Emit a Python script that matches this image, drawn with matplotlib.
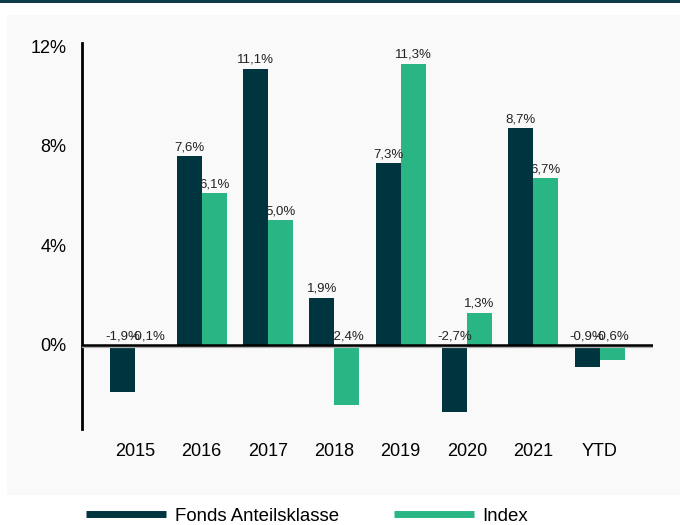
import matplotlib.pyplot as plt
from matplotlib.lines import Line2D
from matplotlib.patches import Rectangle
import numpy as np

plt.rcParams['font.family'] = ['Liberation Sans', 'DejaVu Sans']

# Jahresrenditen in %
jahre = ['2015', '2016', '2017', '2018', '2019', '2020', '2021', 'YTD']
fonds = [-1.9, 7.6, 11.1, 1.9, 7.3, -2.7, 8.7, -0.9]
index = [-0.1, 6.1, 5.0, -2.4, 11.3, 1.3, 6.7, -0.6]

farbe_fonds = '#00343f'
farbe_index = '#29b584'

fig = plt.figure(figsize=(6.8, 5.25), dpi=100)

# grauer Hintergrund und dunkle Linie oben
fig.patches.append(Rectangle((7 / 680, 30 / 525), 1, 480 / 525, transform=fig.transFigure,
                             facecolor='#f9f9f9', edgecolor='none', zorder=-2))
fig.patches.append(Rectangle((0, 522 / 525), 1, 3 / 525, transform=fig.transFigure,
                             facecolor='#0d3c49', edgecolor='none', zorder=-2))

ax = fig.add_axes([0.1201, 0.1823, 0.8399, 0.7352])
ax.set_facecolor('none')
ax.set_zorder(1)

x = np.arange(len(jahre))
b = 0.377

ax.bar(x - b / 2, fonds, b, color=farbe_fonds, zorder=4)
ax.bar(x + b / 2, index, b, color=farbe_index, zorder=2)


def fmt(v):
    return f'{v:.1f}%'.replace('.', ',')


for xi, v in zip(x, fonds):
    ax.annotate(fmt(v), (xi - b / 2, max(v, 0)), xytext=(0, 2), textcoords='offset points',
                ha='center', va='bottom', fontsize=9.5, color='#222222', zorder=5)
for xi, v in zip(x, index):
    ax.annotate(fmt(v), (xi + b / 2, max(v, 0)), xytext=(0, 2), textcoords='offset points',
                ha='center', va='bottom', fontsize=9.5, color='#222222', zorder=3)

# Nulllinie mit leichtem Schatten
ax.axhline(-0.07, color='#b0b0b0', lw=1.6, zorder=5)
ax.axhline(0, color='black', lw=1.8, zorder=6)

ax.set_xlim(-0.81, 7.80)
ax.set_ylim(-3.39, 12.12)
ax.set_xticks(x)
ax.set_xticklabels(jahre, fontsize=13)
ax.set_yticks([0, 4, 8, 12])
ax.set_yticklabels(['0%', '4%', '8%', '12%'], fontsize=13)
ax.tick_params(axis='x', length=0, pad=10)
ax.tick_params(axis='y', length=0, pad=11)

for s in ['top', 'right', 'bottom']:
    ax.spines[s].set_visible(False)
ax.spines['left'].set_linewidth(2)

handles = [Line2D([], [], color=farbe_fonds, lw=5, solid_capstyle='butt'),
           Line2D([], [], color=farbe_index, lw=5, solid_capstyle='butt')]
fig.legend(handles, ['Fonds Anteilsklasse', 'Index'], loc='center',
           bbox_to_anchor=(0.4515, 9 / 525), ncol=2, frameon=False, fontsize=13.4,
           handlelength=4.3, handletextpad=0.48, columnspacing=2.96)

fig.savefig('out.png', dpi=100)
